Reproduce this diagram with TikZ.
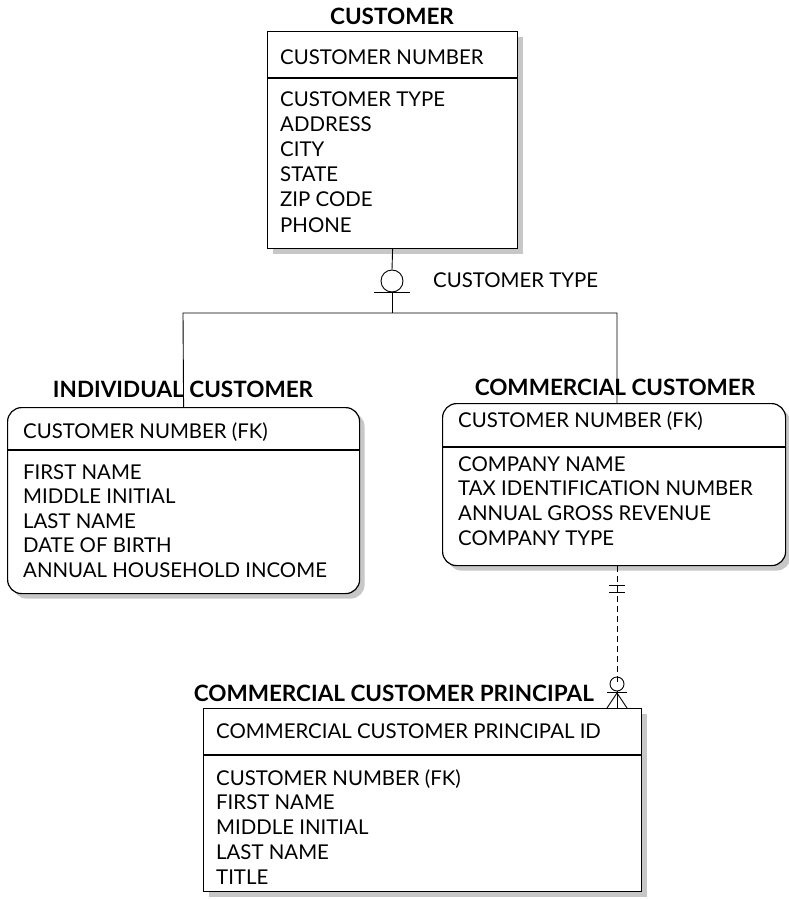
\documentclass[tikz,border=0pt]{standalone}
\usepackage{fontspec}
\setmainfont{Lato}
\usetikzlibrary{shadows}

\tikzset{
  entity/.style={draw, line width=1.2pt, fill=white, inner sep=0pt, anchor=north west,
    drop shadow={shadow xshift=5pt, shadow yshift=-5pt, fill=black!22, opacity=1}},
  subent/.style={entity, rounded corners=14pt},
  title/.style={font=\fontsize{22.5}{26}\selectfont\bfseries, inner sep=0pt, anchor=base},
  attr/.style={font=\fontsize{20.4}{24}\selectfont, inner sep=0pt, anchor=base west},
  link/.style={line width=0.9pt},
}

\begin{document}
\begin{tikzpicture}[x=1pt, y=-1pt]
\useasboundingbox (0,0) rectangle (788,899);

% customer
\node[entity, minimum width=250pt, minimum height=217pt] (cust) at (267,31) {};
\draw[line width=1.2pt] (cust.west |- 0,78) -- (cust.east |- 0,78);
\node[title] (custt) at (392,25) {CUSTOMER};
\node[attr] (custk) at (280,65) {CUSTOMER NUMBER};
\foreach \a [count=\i from 0] in {CUSTOMER TYPE, ADDRESS, CITY, STATE, ZIP CODE, PHONE}
  \node[attr] (cust\i) at (280,{106+25.2*\i}) {\a};

% individual customer
\node[subent, minimum width=352pt, minimum height=186pt] (ind) at (7,407) {};
\draw[line width=1.2pt] (ind.west |- 0,450) -- (ind.east |- 0,450);
\node[title] (indt) at (183,397) {INDIVIDUAL CUSTOMER};
\node[attr] (indk) at (23,438) {CUSTOMER NUMBER (FK)};
\foreach \a [count=\i from 0] in {FIRST NAME, MIDDLE INITIAL, LAST NAME, DATE OF BIRTH, ANNUAL HOUSEHOLD INCOME}
  \node[attr] (ind\i) at (23,{479+24.5*\i}) {\a};

% commercial customer
\node[subent, minimum width=343pt, minimum height=162pt] (com) at (442,403) {};
\draw[line width=1.2pt] (com.west |- 0,447) -- (com.east |- 0,447);
\node[title] (comt) at (615,395) {COMMERCIAL CUSTOMER};
\node[attr] (comk) at (458,427) {CUSTOMER NUMBER (FK)};
\foreach \a [count=\i from 0] in {COMPANY NAME, TAX IDENTIFICATION NUMBER, ANNUAL GROSS REVENUE, COMPANY TYPE}
  \node[attr] (com\i) at (458,{471+24.7*\i}) {\a};

% commercial customer principal
\node[entity, minimum width=438pt, minimum height=183pt] (prin) at (203,708) {};
\draw[line width=1.2pt] (prin.west |- 0,755) -- (prin.east |- 0,755);
\node[title, anchor=base east] (print) at (594,701) {COMMERCIAL CUSTOMER PRINCIPAL};
\node[attr] (prink) at (216,738) {COMMERCIAL CUSTOMER PRINCIPAL ID};
\foreach \a [count=\i from 0] in {CUSTOMER NUMBER (FK), FIRST NAME, MIDDLE INITIAL, LAST NAME, TITLE}
  \node[attr] (prin\i) at (216,{785+24.75*\i}) {\a};

% subtype category
\node[draw, circle, link, minimum size=22pt, inner sep=0pt] (cat) at (392,281) {};
\coordinate (jl) at (183,313);
\coordinate (jr) at (617,313);
\draw[link] (cust.south) -- (cat.north);
\draw[link] (cat.south) -- (cat.south |- jl);
\draw[link] ([xshift=-18pt]cat.south) -- ([xshift=18pt]cat.south);
\draw[link] (ind.north) -- (jl) -- (jr) -- (jr |- com.north);
\node[attr] (catl) at (433,287) {CUSTOMER TYPE};

% principal relationship
\coordinate (rt) at (jr |- com.south);
\coordinate (rb) at (jr |- prin.north);
\draw[link, dash pattern=on 6pt off 4pt] (rt) -- ([yshift=22pt]rb);
\draw[link] ([xshift=-8pt,yshift=-19pt]rt) -- ++(16pt,0);
\draw[link] ([xshift=-8pt,yshift=-26pt]rt) -- ++(16pt,0);
\node[draw, circle, link, minimum size=14pt, inner sep=0pt] (opt) at ([yshift=24pt]rb) {};
\draw[link] ([xshift=-10pt,yshift=16pt]rb) -- ++(20pt,0);
\draw[link] ([xshift=-10pt]rb) -- ([yshift=15pt]rb) -- ([xshift=10pt]rb);
\draw[link] (opt.south) -- (rb);
\end{tikzpicture}
\end{document}
